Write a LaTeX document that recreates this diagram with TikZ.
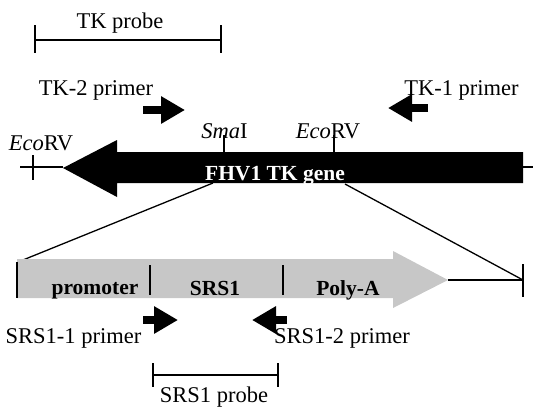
\documentclass[tikz,border=0pt]{standalone}
\usepackage{fontspec}
\setmainfont{Liberation Serif}
\usetikzlibrary{arrows.meta}
\begin{document}
\begin{tikzpicture}[x=1pt,y=-1pt,
  thinline/.style={line width=1.3pt,black},
  lbl/.style={anchor=base,inner sep=0pt,font=\fontsize{22.5}{25}\selectfont},
  blbl/.style={anchor=base,inner sep=0pt,font=\fontsize{21.5}{24}\selectfont\bfseries},
  primerarrow/.style={line width=8pt,-{Triangle[length=24pt,width=26pt]}}]
\useasboundingbox (0,0) rectangle (533,408);

% TK probe
\draw[thinline] (35,40) -- (221,40);
\draw[thinline] (35,25) -- (35,53);
\draw[thinline] (221,25) -- (221,53);
\node[lbl] (tkprobe) at (120,28) {TK probe};

% TK primers
\node[lbl] (tk2) at (96,95) {TK-2 primer};
\node[lbl] (tk1) at (461.5,95) {TK-1 primer};
\coordinate (tk2s) at (143,110);
\coordinate (tk2e) at (185,110);
\coordinate (tk1s) at (428,108);
\coordinate (tk1e) at (388,108);
\draw[primerarrow] (tk2s) -- (tk2e);
\draw[primerarrow] (tk1s) -- (tk1e);

% expansion lines
\coordinate (gl) at (213,183);
\coordinate (gr) at (345,184);
\coordinate (bl) at (18,262);
\coordinate (br) at (523,280);
\draw[thinline] (gl) -- (bl);
\draw[thinline] (gr) -- (br);

% gene backbone
\draw[thinline] (20,167) -- (63,167);
\draw[thinline] (523,167) -- (533,167);
\draw[thinline] (33,155) -- (33,180);
\draw[thinline] (224,135) -- (224,153);
\draw[thinline] (334,135) -- (334,153);

% gene arrow
\fill[black] (523,152) -- (117,152) -- (117,140) -- (63,168) -- (117,197) -- (117,183) -- (523,183) -- cycle;
\node[blbl,text=white] (gene) at (275,180) {FHV1 TK gene};

\node[lbl] (eco1) at (41,150) {\textit{Eco}RV};
\node[lbl] (sma) at (224.5,138) {\textit{Sma}I};
\node[lbl] (eco2) at (328,138) {\textit{Eco}RV};

% SRS1 region arrow
\fill[black!22] (17,259) -- (393,259) -- (393,251) -- (448,280) -- (393,308) -- (393,298) -- (17,298) -- cycle;
\draw[thinline] (448,280) -- (523,280);
\draw[thinline] (523,264) -- (523,297);
\draw[thinline] (17,262) -- (17,298);
\draw[thinline] (150,265) -- (150,295);
\draw[thinline] (283,265) -- (283,295);
\node[blbl] (prom) at (95,294) {promoter};
\node[blbl] (srs) at (215,295) {SRS1};
\node[blbl] (polya) at (348,295) {Poly-A};

% SRS1 primers
\coordinate (s1s) at (143,320);
\coordinate (s1e) at (178,320);
\coordinate (s2s) at (287,320);
\coordinate (s2e) at (252,320);
\draw[primerarrow] (s1s) -- (s1e);
\draw[primerarrow] (s2s) -- (s2e);
\node[lbl] (srs1p) at (73.5,343) {SRS1-1 primer};
\node[lbl] (srs2p) at (342,343) {SRS1-2 primer};

% SRS1 probe
\draw[thinline] (153,375) -- (278,375);
\draw[thinline] (153,363) -- (153,387);
\draw[thinline] (278,363) -- (278,387);
\node[lbl] (srsprobe) at (214,402) {SRS1 probe};
\end{tikzpicture}
\end{document}
